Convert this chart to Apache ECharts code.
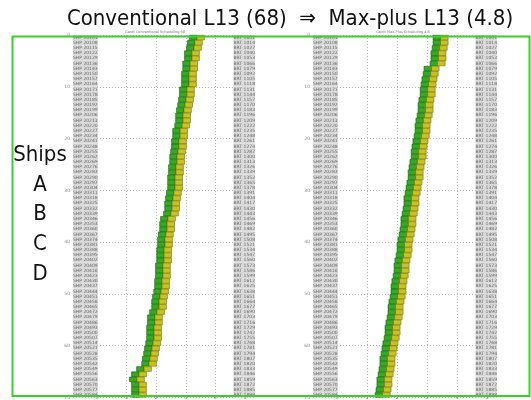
<!DOCTYPE html>
<html>
<head>
<meta charset="utf-8">
<style>
  html, body { margin: 0; padding: 0; background: #fff; }
  #chart { width: 531px; height: 400px; }
</style>
<script src="https://cdn.jsdelivr.net/npm/echarts@6/dist/echarts.min.js"></script>
</head>
<body>
<div id="chart"></div>
<script>
// Berth scheduling Gantt: one row per ship, green = first operation, yellow = second.
const ROW_COUNT = 70;
const xTicks = [0, 1, 2, 3, 4, 5];
const rowTicks = [0, 10, 20, 30, 40, 50, 60, 70];

// Start time of each ship's first operation (axis units), conventional schedule
const convStart = [
  3.14, 3.07, 3.04, 2.97, 2.97, 2.91, 2.91, 2.87, 2.87, 2.87,
  2.80, 2.80, 2.77, 2.74, 2.70, 2.67, 2.67, 2.64, 2.57, 2.57,
  2.53, 2.53, 2.50, 2.47, 2.47, 2.43, 2.43, 2.40, 2.40, 2.40,
  2.36, 2.33, 2.30, 2.30, 2.26, 2.16, 2.13, 2.13, 2.09, 2.06,
  2.06, 2.03, 2.03, 2.03, 1.99, 1.99, 1.99, 1.96, 1.96, 1.93,
  1.89, 1.86, 1.86, 1.79, 1.72, 1.72, 1.69, 1.69, 1.69, 1.66,
  1.62, 1.59, 1.55, 1.52, 1.35, 1.18, 1.11, 1.18, 1.18, 1.18
];
// Start time of each ship's first operation, max-plus schedule
const mpStart = [
  3.20, 3.20, 3.17, 3.13, 3.13, 3.10, 2.90, 2.87, 2.83, 2.80,
  2.77, 2.77, 2.73, 2.70, 2.70, 2.67, 2.63, 2.60, 2.60, 2.57,
  2.53, 2.50, 2.47, 2.47, 2.43, 2.40, 2.37, 2.37, 2.33, 2.30,
  2.27, 2.23, 2.23, 2.20, 2.17, 2.13, 2.13, 2.10, 2.07, 2.03,
  2.00, 2.00, 1.97, 1.93, 1.90, 1.90, 1.87, 1.83, 1.80, 1.80,
  1.77, 1.73, 1.70, 1.70, 1.67, 1.63, 1.60, 1.60, 1.57, 1.53,
  1.50, 1.47, 1.43, 1.43, 1.40, 1.37, 1.33, 1.33, 1.30, 1.27
];
// Operation durations (axis units)
const greenSpan = 0.25;
const yellowSpan = 0.25;

// Ship identifiers (left) and berth/slot codes (right)
const shipIds = [];
const slotIds = [];
for (let i = 0; i < ROW_COUNT; i++) {
  shipIds.push('SHP ' + String(20101 + i * 7));
  slotIds.push('BRT ' + String(1001 + i * 13).slice(0, 4));
}

const GREEN = '#33ad1f', GREEN_EDGE = '#0f5a0a';
const YELLOW = '#cbc21e', YELLOW_EDGE = '#75700c';
const TINY = 'DejaVu Sans';

function ganttData(starts) {
  return starts.map((s, i) => [i, s, greenSpan, yellowSpan]);
}

function renderBar(params, api) {
  const row = api.value(0) + 0.5;
  const s = api.value(1);
  const g = api.value(2);
  const y = api.value(3);
  const p0 = api.coord([s, row]);
  const p1 = api.coord([s + g, row]);
  const p2 = api.coord([s + g + y, row]);
  const h = api.size([0, 1])[1] * 0.9;
  return {
    type: 'group',
    children: [
      { type: 'rect', shape: { x: p0[0], y: p0[1] - h / 2, width: p1[0] - p0[0], height: h },
        style: { fill: GREEN, stroke: GREEN_EDGE, lineWidth: 0.6 } },
      { type: 'rect', shape: { x: p1[0], y: p1[1] - h / 2, width: p2[0] - p1[0], height: h },
        style: { fill: YELLOW, stroke: YELLOW_EDGE, lineWidth: 0.6 } }
    ]
  };
}

const dotted = { show: true, lineStyle: { color: '#b8b8b8', type: [1, 2], width: 1 } };
const hidden = { axisLine: { show: false }, axisTick: { show: false }, axisLabel: { show: false }, splitLine: { show: false } };

// Panel geometry: wide grid holds rows/labels, narrow grid holds the time gridlines
function panel(wideLeft, wideWidth, narrowLeft, narrowWidth, xMin, xMax) {
  return {
    grids: [
      { left: wideLeft, width: wideWidth, top: 35, height: 364 },
      { left: narrowLeft, width: narrowWidth, top: 35, height: 364 }
    ],
    xMin, xMax
  };
}
const P1 = panel(73, 182, 97, 148, -0.8, 5.35);
const P2 = panel(313, 184, 337, 150, -0.8, 5.33);

const idLabel = { inside: true, interval: 0, fontSize: 4.5, lineHeight: 5, color: '#6a6a6a',
  backgroundColor: '#d9d9d9', fontFamily: TINY, margin: 0 };

function axesFor(p, gi) {
  const x = [
    Object.assign({ type: 'value', gridIndex: gi, min: p.xMin, max: p.xMax }, hidden),
    { type: 'value', gridIndex: gi + 1, min: xTicks[0], max: xTicks[xTicks.length - 1], interval: 1,
      axisLine: { show: false }, axisTick: { show: false }, splitLine: dotted,
      axisLabel: { fontSize: 5, color: '#777', margin: 0, fontFamily: TINY } }
  ];
  const y = [
    { type: 'value', gridIndex: gi, inverse: true, min: rowTicks[0], max: rowTicks[rowTicks.length - 1], interval: 10,
      axisLine: { show: false }, axisTick: { show: false }, splitLine: dotted,
      axisLabel: { fontSize: 4.5, color: '#888', margin: 3, fontFamily: TINY } },
    { type: 'category', gridIndex: gi, inverse: true, data: shipIds, position: 'left',
      axisLine: { show: false }, axisTick: { show: false }, axisLabel: idLabel },
    { type: 'category', gridIndex: gi, inverse: true, data: slotIds, position: 'right',
      axisLine: { show: false }, axisTick: { show: false }, axisLabel: idLabel },
    Object.assign({ type: 'value', gridIndex: gi + 1, inverse: true, min: 0, max: 70 }, hidden)
  ];
  return { x, y };
}
const a1 = axesFor(P1, 0);
const a2 = axesFor(P2, 2);

const chart = echarts.init(document.getElementById('chart'), null, { renderer: 'canvas' });

const headFont = '"Liberation Sans Narrow", "DejaVu Sans Condensed", "Noto Sans", sans-serif';
const sideLabels = ['Ships', 'A', 'B', 'C', 'D'];
const sideY = [155, 185, 214, 244, 274];

chart.setOption({
  animation: false,
  backgroundColor: '#ffffff',
  grid: [].concat(P1.grids, P2.grids),
  xAxis: [].concat(a1.x, a2.x),
  yAxis: [].concat(a1.y, a2.y),
  series: [
    { type: 'custom', name: 'Conventional', xAxisIndex: 0, yAxisIndex: 0,
      renderItem: renderBar, encode: { x: [1], y: 0 }, data: ganttData(convStart), z: 5 },
    { type: 'custom', name: 'Max-plus', xAxisIndex: 2, yAxisIndex: 4,
      renderItem: renderBar, encode: { x: [1], y: 0 }, data: ganttData(mpStart), z: 5 }
  ],
  graphic: [
    { type: 'text', x: 290, y: 19, z: 50,
      style: { text: 'Conventional L13 (68)  \u21D2  Max-plus L13 (4.8)', font: '22px ' + headFont, fill: '#111',
        align: 'center', verticalAlign: 'middle' } },
    { type: 'text', x: 155, y: 32, z: 50,
      style: { text: 'Gantt Conventional Scheduling 68', font: '3.5px ' + TINY, fill: '#777', align: 'center', verticalAlign: 'middle' } },
    { type: 'text', x: 403, y: 32, z: 50,
      style: { text: 'Gantt Max-Plus Scheduling 4.8', font: '3.5px ' + TINY, fill: '#777', align: 'center', verticalAlign: 'middle' } }
  ].concat(sideLabels.map((t, i) => ({
    type: 'text', x: 40, y: sideY[i], z: 50,
    style: { text: t, font: '22px ' + headFont, fill: '#111', align: 'center', verticalAlign: 'middle' }
  }))).concat([
    { type: 'rect', z: 60, shape: { x: 12.5, y: 36.5, width: 517, height: 359.5 },
      style: { fill: 'none', stroke: '#3fcc2f', lineWidth: 2 } }
  ])
});
</script>
</body>
</html>
